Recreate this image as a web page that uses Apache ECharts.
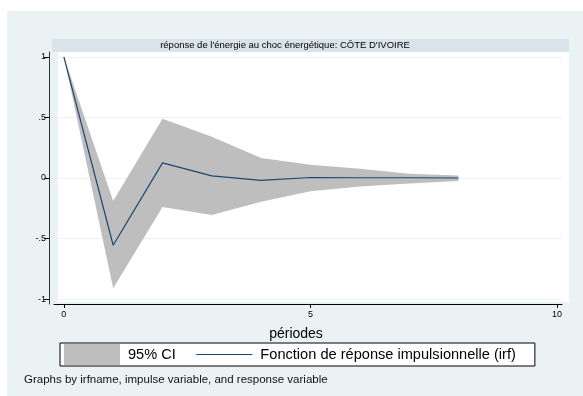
<!DOCTYPE html>
<html><head><meta charset="utf-8">
<script src="https://cdn.jsdelivr.net/npm/echarts@6/dist/echarts.min.js"></script>
<style>html,body{margin:0;padding:0;background:#fff}#c{width:583px;height:396px}</style>
</head><body><div id="c"></div>
<script>
var periods = [0, 1, 2, 3, 4, 5, 6, 7, 8];
var irf   = [1, -0.555, 0.125, 0.018, -0.02, 0.004, 0.002, 0.002, 0.0];
var upper = [1, -0.19, 0.49, 0.34, 0.165, 0.11, 0.077, 0.035, 0.02];
var lower = [1, -0.91, -0.24, -0.305, -0.195, -0.11, -0.07, -0.045, -0.025];
var yTicks = [-1, -0.5, 0, 0.5, 1];
var xTicks = [0, 5, 10];
var panelTitle = "réponse de l'énergie au choc énergétique: CÔTE D'IVOIRE";
var xTitle = "périodes";
var ciName = "95% CI";
var irfName = "Fonction de réponse impulsionnelle (irf)";
var footer = "Graphs by irfname, impulse variable, and response variable";

function fmt(v){
  if (Math.abs(v) < 1e-9) return '0';
  var s = String(v);
  return s.replace(/^(-?)0\./, '$1.');
}
var F = 'Liberation Sans, Arial, Helvetica, sans-serif';
var chart = echarts.init(document.getElementById('c'), null, {renderer:'canvas'});
var bandData = periods.map(function(p,i){return [p, lower[i], upper[i]];});
var irfPts = periods.map(function(p,i){return [p, irf[i]];});
chart.setOption({
  animation:false,
  backgroundColor:'#fff',
  textStyle:{fontFamily:F},
  graphic:[
    {type:'rect', z:-10, shape:{x:7,y:11,width:576,height:385}, style:{fill:'#EAF2F3'}},
    {type:'rect', z:-9, shape:{x:58,y:52,width:511,height:250}, style:{fill:'#FFFFFF'}},
    {type:'rect', z:-9, shape:{x:52,y:39,width:517,height:13}, style:{fill:'#D8E4EA'}},
    {type:'text', z:5, x:285, y:45.5, style:{text:panelTitle, fontSize:9.5, fontFamily:F, fill:'#000', align:'center', verticalAlign:'middle'}},
    {type:'text', z:5, x:24, y:380, style:{text:footer, fontSize:11.5, fontFamily:F, fill:'#111', align:'left', verticalAlign:'middle'}}
  ],
  grid:{left:54, right:21, top:52, bottom:92, containLabel:false},
  xAxis:{type:'value', min:-0.2, max:10.1,
    axisLine:{show:true, onZero:false, lineStyle:{color:'#000', width:1}},
    axisTick:{show:true, length:4, customValues:xTicks, lineStyle:{color:'#000'}},
    axisLabel:{show:true, customValues:xTicks, fontSize:9, color:'#000', margin:6, fontFamily:F},
    splitLine:{show:false},
    name:xTitle, nameLocation:'middle', nameGap:23, nameTextStyle:{fontSize:14, color:'#000', fontFamily:F, padding:[0,24,0,0]}
  },
  yAxis:{type:'value', min:-1.04, max:1.04, offset:5,
    axisLine:{show:true, onZero:false, lineStyle:{color:'#333', width:1}},
    axisTick:{show:true, length:5, customValues:yTicks, lineStyle:{color:'#000'}},
    axisLabel:{show:true, customValues:yTicks, fontSize:9, color:'#000', margin:3, fontFamily:F, formatter:fmt},
    splitLine:{show:false}
  },
  legend:{left:60, top:343, orient:'horizontal', itemWidth:56, itemHeight:21, itemGap:20,
    backgroundColor:'#fff', borderColor:'#000', borderWidth:1, padding:[1,19,1,4],
    textStyle:{fontSize:14.6, color:'#000', fontFamily:F, padding:[0,0,0,3]},
    data:[{name:ciName, icon:'rect', itemStyle:{color:'#BEBEBE'}},
          {name:irfName, itemStyle:{opacity:0}, lineStyle:{color:'#1A476F', width:1}}]
  },
  series:[
    {name:ciName, type:'custom', data:bandData, z:2, silent:true,
      encode:{x:0, y:[1,2]}, itemStyle:{color:'#BEBEBE'},
      renderItem:function(params, api){
        if (params.dataIndex !== 0) return null;
        var up = [], lo = [];
        for (var i = 0; i < bandData.length; i++) {
          up.push(api.coord([bandData[i][0], bandData[i][2]]));
          lo.push(api.coord([bandData[i][0], bandData[i][1]]));
        }
        var pts = up.concat(lo.reverse());
        return {type:'polygon', shape:{points:pts}, style:{fill:'#BEBEBE', stroke:'none'}};
      },
      markLine:{silent:true, symbol:'none', z:-1, label:{show:false}, lineStyle:{color:'#EAF2F3', width:1, type:'solid'},
        data:yTicks.map(function(v){return {yAxis:v};})}
    },
    {name:irfName, type:'line', data:irfPts, symbol:'none', z:3,
      lineStyle:{color:'#1A476F', width:1.2}, itemStyle:{color:'#1A476F'}}
  ]
});
</script></body></html>
